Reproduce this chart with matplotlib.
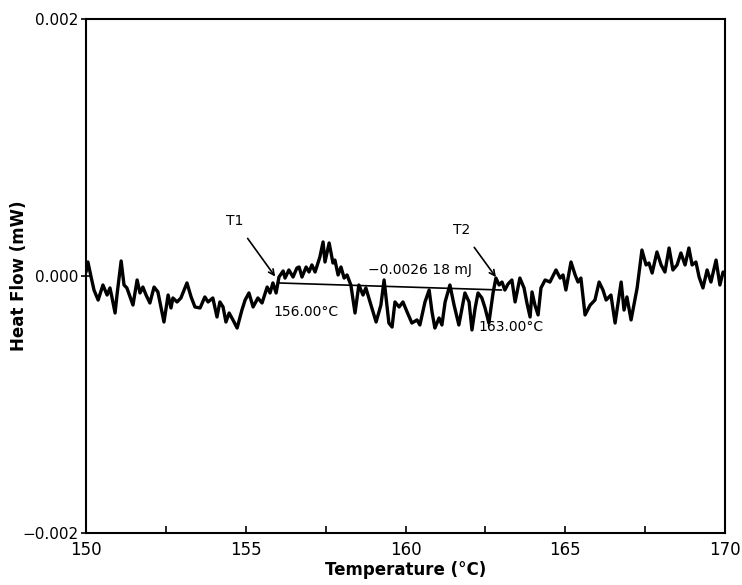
import numpy as np
import matplotlib
matplotlib.use("Agg")
import matplotlib.pyplot as plt

# Temperature (°C)
temperature_C = [
    150.00, 150.06, 150.16, 150.25, 150.38, 150.53, 150.66, 150.75, 150.81, 150.91,
    150.97, 151.10, 151.19, 151.28, 151.47, 151.60, 151.69, 151.78, 151.88, 152.00,
    152.13, 152.25, 152.44, 152.57, 152.66, 152.72, 152.85, 152.97, 153.16, 153.29,
    153.41, 153.57, 153.72, 153.82, 153.97, 154.10, 154.19, 154.29, 154.38, 154.48,
    154.60, 154.73, 154.88, 154.98, 155.10, 155.23, 155.38, 155.51, 155.67, 155.76,
    155.85, 155.95, 156.04, 156.17, 156.23, 156.35, 156.48, 156.60, 156.67, 156.76,
    156.89, 156.98, 157.07, 157.17, 157.32, 157.42, 157.48, 157.61, 157.73, 157.79,
    157.89, 157.98, 158.08, 158.17, 158.29, 158.42, 158.54, 158.67, 158.76, 158.89,
    159.08, 159.23, 159.33, 159.48, 159.58, 159.67, 159.80, 159.92, 160.05, 160.20,
    160.36, 160.45, 160.61, 160.74, 160.83, 160.92, 161.05, 161.14, 161.24, 161.39,
    161.52, 161.67, 161.77, 161.86, 161.99, 162.08, 162.18, 162.27, 162.39, 162.49,
    162.61, 162.74, 162.83, 162.93, 163.02, 163.11, 163.21, 163.33, 163.43, 163.58,
    163.71, 163.80, 163.90, 163.96, 164.05, 164.15, 164.24, 164.37, 164.52, 164.71,
    164.84, 164.93, 165.02, 165.18, 165.31, 165.40, 165.49, 165.62, 165.78, 165.93,
    166.06, 166.18, 166.28, 166.43, 166.56, 166.75, 166.84, 166.93, 167.06, 167.25,
    167.40, 167.53, 167.62, 167.72, 167.87, 168.00, 168.12, 168.25, 168.37, 168.50,
    168.62, 168.75, 168.87, 168.97, 169.09, 169.19, 169.31, 169.44, 169.56, 169.72,
    169.84, 169.94, 170.00,
]

# Heat flow (µW)
heat_flow_uW = [
    0.031, 0.109, -0.008, -0.109, -0.187, -0.070, -0.148, -0.093, -0.163, -0.288,
    -0.148, 0.117, -0.070, -0.093, -0.226, -0.031, -0.132, -0.086, -0.148, -0.210,
    -0.086, -0.124, -0.358, -0.148, -0.249, -0.171, -0.202, -0.171, -0.054, -0.163,
    -0.241, -0.249, -0.163, -0.202, -0.171, -0.319, -0.202, -0.241, -0.358, -0.288,
    -0.342, -0.405, -0.265, -0.187, -0.132, -0.241, -0.171, -0.210, -0.086, -0.132,
    -0.054, -0.132, -0.008, 0.039, -0.016, 0.047, -0.008, 0.062, 0.070, -0.008,
    0.070, 0.031, 0.086, 0.031, 0.148, 0.265, 0.109, 0.257, 0.101, 0.124,
    0.008, 0.070, -0.016, 0.008, -0.070, -0.288, -0.070, -0.148, -0.093, -0.202,
    -0.358, -0.226, -0.031, -0.366, -0.397, -0.202, -0.241, -0.202, -0.280, -0.366,
    -0.342, -0.381, -0.202, -0.109, -0.280, -0.405, -0.327, -0.381, -0.202, -0.070,
    -0.226, -0.381, -0.249, -0.132, -0.202, -0.420, -0.249, -0.132, -0.171, -0.249,
    -0.366, -0.132, -0.016, -0.070, -0.047, -0.109, -0.062, -0.031, -0.202, -0.016,
    -0.093, -0.210, -0.319, -0.124, -0.226, -0.303, -0.093, -0.031, -0.047, 0.047,
    -0.016, 0.008, -0.109, 0.109, 0.008, -0.047, -0.016, -0.303, -0.226, -0.187,
    -0.047, -0.109, -0.187, -0.148, -0.366, -0.047, -0.265, -0.163, -0.342, -0.093,
    0.202, 0.086, 0.101, 0.023, 0.187, 0.086, 0.031, 0.218, 0.047, 0.086,
    0.179, 0.086, 0.218, 0.086, 0.109, -0.008, -0.093, 0.047, -0.047, 0.124,
    -0.070, 0.031, 0.008,
]

# Integration limits and baseline
limit_T = [156.00, 163.00]
baseline_uW = [-0.054, -0.109]
limit_labels = ["156.00°C", "163.00°C"]
limit_names = ["T1", "T2"]
area_label = "\u22120.0026 18 mJ"

x_ticks = [150, 155, 160, 165, 170]
y_ticks = [-0.002, 0.0, 0.002]
y_ticklabels = ["\u22120.002", "0.000", "0.002"]

plt.rcParams['font.family'] = ['DejaVu Sans']

fig = plt.figure(figsize=(7.42, 5.85), dpi=100)
ax = fig.add_axes([86 / 742, 1 - 533 / 585, (725 - 86) / 742, (533 - 19) / 585])

y_mW = np.array(heat_flow_uW) / 1000.0
ax.plot(temperature_C, y_mW, color='black', lw=2.4, solid_joinstyle='round',
        solid_capstyle='round')

base_mW = np.array(baseline_uW) / 1000.0
ax.plot(limit_T, base_mW, color='black', lw=1.2)

ax.set_xlim(150, 170)
ax.set_ylim(-0.002, 0.002)
ax.set_xticks(x_ticks)
ax.set_xticks(np.arange(150, 170.1, 2.5), minor=True)
ax.set_yticks(y_ticks)
ax.set_yticklabels(y_ticklabels)
ax.tick_params(axis='x', which='both', direction='in', length=5, width=1.2,
               labelsize=12, pad=6)
ax.tick_params(axis='y', which='both', direction='inout', length=7, width=1.2,
               labelsize=11, pad=2)
for s in ax.spines.values():
    s.set_linewidth(1.5)

ax.set_xlabel("Temperature (°C)", fontsize=12, fontweight='bold', labelpad=1)
ax.set_ylabel("Heat Flow (mW)", fontsize=12, fontweight='bold')
ax.yaxis.set_label_coords(-0.091, 0.5)

# Annotations
arrow_kw = dict(arrowstyle='->', color='black', lw=1.2,
                mutation_scale=10, shrinkA=7, shrinkB=0)
ax.annotate(limit_names[0], xy=(limit_T[0] - 0.08, base_mW[0] + 0.00005),
            xytext=(154.66, 0.00043), fontsize=10, ha='center', va='center',
            arrowprops=arrow_kw)
ax.annotate(limit_names[1], xy=(limit_T[1] - 0.17, base_mW[1] + 0.0001),
            xytext=(161.75, 0.00036), fontsize=10, ha='center', va='center',
            arrowprops=arrow_kw)
ax.text(limit_T[0] - 0.13, -0.00028, limit_labels[0], fontsize=10,
        ha='left', va='center')
ax.text(limit_T[1] - 0.73, -0.0004, limit_labels[1], fontsize=10,
        ha='left', va='center')
ax.text(160.44, 0.00005, area_label, fontsize=10, ha='center', va='center')

fig.savefig("out.png", dpi=100)
